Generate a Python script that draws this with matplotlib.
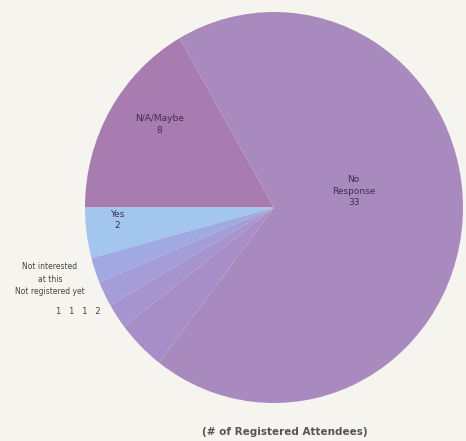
import numpy as np
import matplotlib.pyplot as plt

# responses from registered attendees
labels = ['N/A/Maybe', 'Yes', 'Not interested', 'At this time', 'Not registered', 'Other', 'No\nResponse']
counts = [8, 2, 1, 1, 1, 2, 33]
colors = ['#a97cb1', '#a3c6ee', '#a1a9e2', '#a49dd8', '#a694cf', '#a78ec6', '#a88abe']

W, H = 466, 441
fig = plt.figure(figsize=(W / 100, H / 100), dpi=100, facecolor='#f6f4ee')
ax = fig.add_axes([85 / W, (H - 403) / H, 378 / W, 391 / H])
ax.set_facecolor('#f6f4ee')

wedges, _ = ax.pie(counts, colors=colors, startangle=120, counterclock=True,
                   radius=1, wedgeprops=dict(linewidth=0))
ax.set_aspect('auto')
ax.set_xlim(-1, 1)
ax.set_ylim(-1, 1)
ax.axis('off')

# inside labels: name + count, at a radius fraction along each wedge's middle
inside = {0: (0.74, -5), 1: (0.83, -3), 6: (0.43, 15)}
for i, (r, dang) in inside.items():
    w = wedges[i]
    mid = np.deg2rad((w.theta1 + w.theta2) / 2 + dang)
    ax.text(r * np.cos(mid), r * np.sin(mid), f'{labels[i]}\n{counts[i]}',
            ha='center', va='center', fontsize=6.5, color='#3b3050',
            linespacing=1.3)

# the small wedges share one outside label block
fig.text(50 / W, 1 - 279 / H, 'Not interested\nat this\nNot registered yet',
         ha='center', va='center', fontsize=5.5, color='#444444', linespacing=1.5)
fig.text(78 / W, 1 - 312 / H, '   '.join(str(c) for c in counts[2:6]),
         ha='center', va='center', fontsize=6, color='#444444')

fig.text(285 / W, 1 - 432 / H, '(# of Registered Attendees)', ha='center', va='center',
         fontsize=7.5, fontweight='bold', color='#555555')

fig.savefig('out.png', dpi=100, facecolor=fig.get_facecolor())
